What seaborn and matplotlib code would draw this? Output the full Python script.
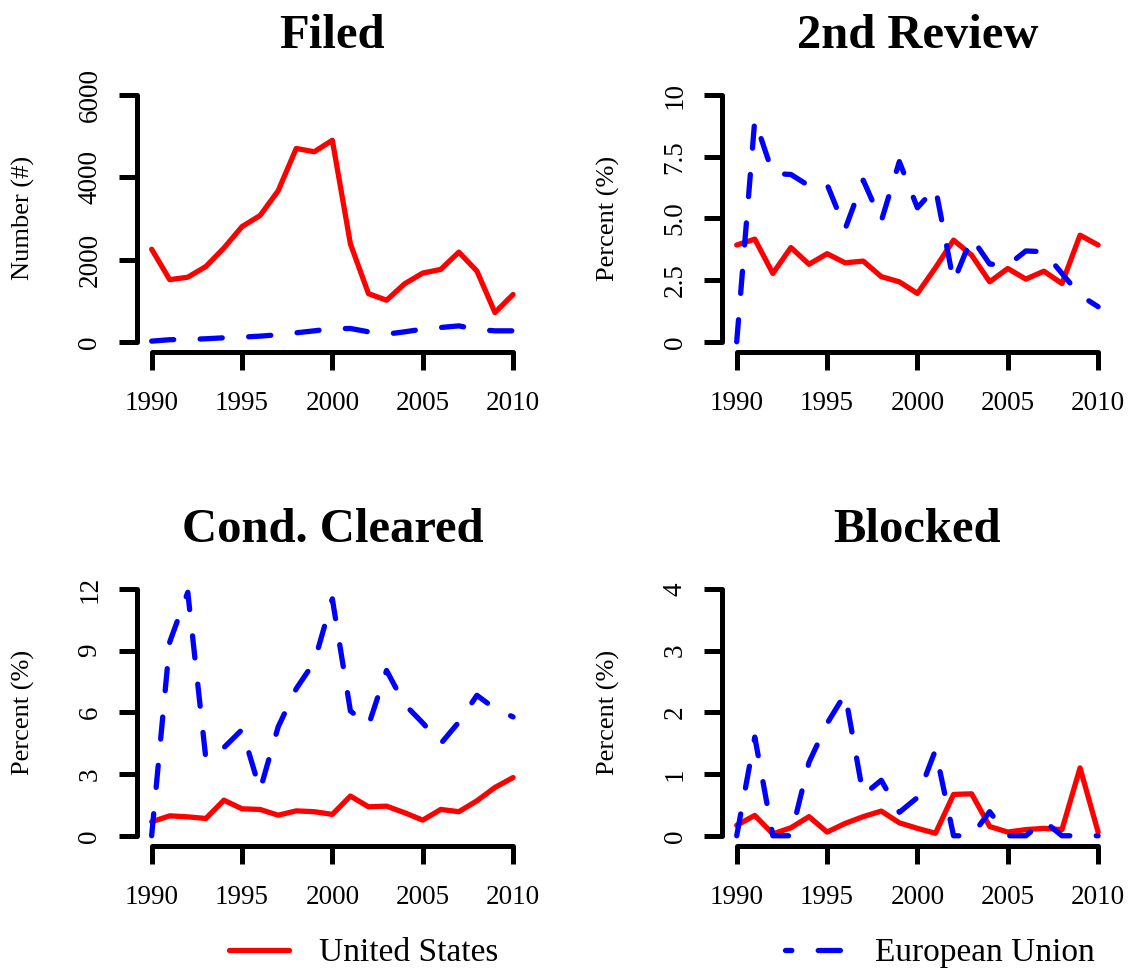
import pandas as pd
import seaborn as sns
import matplotlib.pyplot as plt
from matplotlib.lines import Line2D

# data
years = [1990, 1991, 1992, 1993, 1994, 1995, 1996, 1997, 1998, 1999, 2000,
         2001, 2002, 2003, 2004, 2005, 2006, 2007, 2008, 2009, 2010]

filed_us = [2250, 1510, 1570, 1830, 2280, 2800, 3070, 3670, 4700, 4620, 4900,
            2380, 1170, 1010, 1410, 1670, 1760, 2180, 1720, 710, 1150]
filed_eu = [15, 50, 56, 73, 97, 113, 137, 170, 218, 266, 320,
            323, 242, 185, 242, 307, 347, 387, 300, 266, 266]

review_us = [3.92, 4.16, 2.77, 3.82, 3.14, 3.57, 3.20, 3.27, 2.64, 2.43, 1.96,
             3.00, 4.12, 3.51, 2.43, 2.97, 2.54, 2.86, 2.36, 4.32, 3.92]
review_eu = [0.0, 9.0, 6.82, 6.78, 6.32, 6.38, 4.57, 6.55, 4.89, 7.30, 5.43,
             6.24, 2.43, 4.22, 3.15, 3.10, 3.68, 3.65, 2.77, 1.89, 1.42]

cond_us = [0.68, 0.97, 0.92, 0.84, 1.73, 1.31, 1.28, 1.00, 1.21, 1.17, 1.04,
           1.93, 1.41, 1.44, 1.12, 0.76, 1.28, 1.17, 1.70, 2.35, 2.83]
cond_eu = [0.0, 9.42, 11.84, 3.75, 4.29, 5.16, 2.22, 5.29, 7.15, 8.45, 11.52,
           6.07, 5.37, 8.04, 6.39, 5.49, 4.48, 5.53, 6.83, 6.18, 5.78]

blocked_us = [0.17, 0.33, 0.03, 0.13, 0.31, 0.06, 0.20, 0.31, 0.40, 0.21, 0.12,
              0.04, 0.67, 0.68, 0.15, 0.06, 0.10, 0.12, 0.10, 1.10, 0.06]
blocked_eu = [0.0, 1.60, 0.0, 0.0, 1.19, 1.82, 2.30, 0.66, 0.90, 0.38, 0.62,
              1.39, 0.0, 0.0, 0.39, 0.0, 0.0, 0.24, 0.0, 0.0, 0.0]

x_ticks = [1990, 1995, 2000, 2005, 2010]

panels = [
    ("Filed", "Number (#)", filed_us, filed_eu,
     [0, 2000, 4000, 6000], ["0", "2000", "4000", "6000"]),
    ("2nd Review", "Percent (%)", review_us, review_eu,
     [0, 2.5, 5.0, 7.5, 10], ["0", "2.5", "5.0", "7.5", "10"]),
    ("Cond. Cleared", "Percent (%)", cond_us, cond_eu,
     [0, 3, 6, 9, 12], ["0", "3", "6", "9", "12"]),
    ("Blocked", "Percent (%)", blocked_us, blocked_eu,
     [0, 1, 2, 3, 4], ["0", "1", "2", "3", "4"]),
]

regions = ["United States", "European Union"]
palette = {"United States": "red", "European Union": "blue"}
dashes = {"United States": "", "European Union": (4.2, 5.0)}

sns.set_theme(style="ticks")
plt.rcParams["font.family"] = ["Liberation Serif", "DejaVu Serif"]
plt.rcParams["text.color"] = "black"
plt.rcParams["axes.labelcolor"] = "black"
plt.rcParams["xtick.color"] = "black"
plt.rcParams["ytick.color"] = "black"
plt.rcParams["axes.edgecolor"] = "black"

fig = plt.figure(figsize=(11.31, 9.73), dpi=100)

positions = [
    [0.1213, 0.6386, 0.3451, 0.2739],
    [0.6386, 0.6386, 0.3451, 0.2739],
    [0.1213, 0.1309, 0.3451, 0.2739],
    [0.6386, 0.1309, 0.3451, 0.2739],
]

lw = 3.8
for (title, ylabel, us, eu, yticks, ylabels), pos in zip(panels, positions):
    ax = fig.add_axes(pos)
    df = pd.DataFrame({
        "year": years + years,
        "value": us + eu,
        "region": ["United States"] * len(years) + ["European Union"] * len(years),
    })
    sns.lineplot(data=df, x="year", y="value", hue="region", style="region",
                 hue_order=regions, style_order=regions, palette=palette,
                 dashes=dashes, linewidth=lw, legend=False, ax=ax)
    for line in ax.lines:
        line.set_solid_capstyle("round")
        line.set_dash_capstyle("round")
        line.set_solid_joinstyle("round")
        line.set_dash_joinstyle("round")

    ymax = yticks[-1]
    ax.set_xlim(1990 - 0.8, 2010 + 0.8)
    ax.set_ylim(-0.04 * ymax, ymax * 1.04)
    ax.set_xticks(x_ticks)
    ax.set_xticklabels([str(t) for t in x_ticks])
    ax.set_yticks(yticks)
    ax.set_yticklabels(ylabels, rotation=90, va="center")

    sns.despine(ax=ax)
    ax.spines["left"].set_bounds(0, ymax)
    ax.spines["bottom"].set_bounds(1990, 2010)
    for side in ["left", "bottom"]:
        ax.spines[side].set_linewidth(3.6)
        ax.spines[side].set_capstyle("round")
    ax.tick_params(width=3.6, length=13, labelsize=19.5)
    ax.tick_params(axis="x", pad=15)
    ax.tick_params(axis="y", pad=12)

    ax.set_xlabel("")
    ax.set_ylabel(ylabel, fontsize=19)
    ax.yaxis.set_label_coords(-0.262, 0.5)
    ax.set_title(title, fontsize=35, fontweight="bold", pad=27)

handles = [
    Line2D([], [], color="red", lw=lw, solid_capstyle="round"),
    Line2D([], [], color="blue", lw=lw, linestyle=(3.0, (4.2, 5.0)),
           dash_capstyle="round"),
]
fig.legend(handles, regions, loc="center", bbox_to_anchor=(0.585, 0.0206),
           ncol=2, frameon=False, fontsize=24, handlelength=1.8,
           handletextpad=0.9, columnspacing=8.6)

fig.savefig("out.png", dpi=100)
plt.close(fig)
